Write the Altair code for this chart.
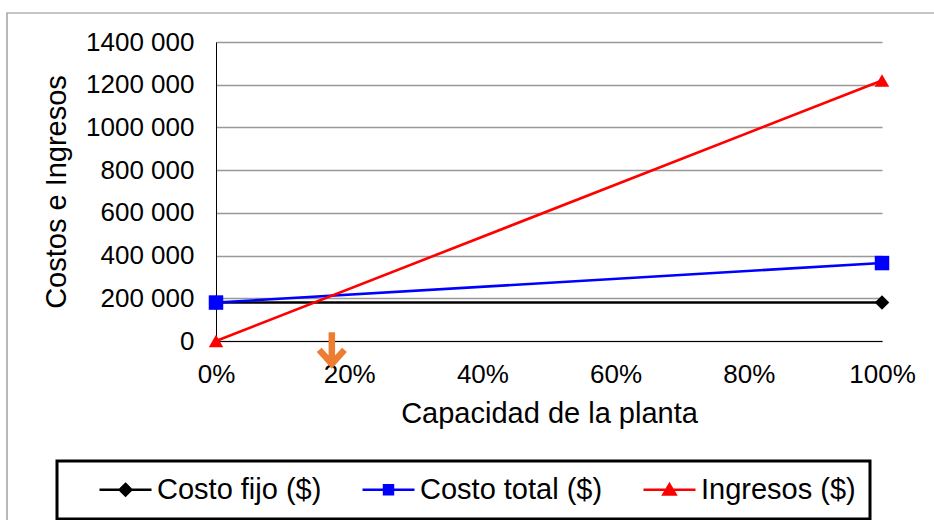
import altair as alt
import pandas as pd

# Break-even chart: fixed cost, total cost and revenue against plant capacity
capacidad = [0.0, 1.0]
costo_fijo = [180000, 180000]
costo_total = [180000, 365000]
ingresos = [0, 1220000]

series = ["Costo fijo ($)", "Costo total ($)", "Ingresos ($)"]
colores = ["#000000", "#0000FF", "#FF0000"]
marcadores = ["diamond", "square", "triangle-up"]
# legend symbols: a short line with the series marker in the middle
simbolos = [
    "M-2,0H2M0,-0.44L0.44,0L0,0.44L-0.44,0Z",
    "M-2,0H2M-0.34,-0.34H0.34V0.34H-0.34Z",
    "M-2,0H2M0,-0.42L0.46,0.36H-0.46Z",
]

x_ticks = [0, 0.2, 0.4, 0.6, 0.8, 1.0]
y_ticks = [0, 200000, 400000, 600000, 800000, 1000000, 1200000, 1400000]

FONT = "Liberation Sans"

filas = []
for nombre, valores in zip(series, [costo_fijo, costo_total, ingresos]):
    for c, v in zip(capacidad, valores):
        filas.append({"serie": nombre, "capacidad": c, "valor": v})
df = pd.DataFrame(filas)

# break-even capacity: where revenue meets total cost
d0 = ingresos[0] - costo_total[0]
d1 = ingresos[1] - costo_total[1]
equilibrio = capacidad[0] + (capacidad[1] - capacidad[0]) * (-d0) / (d1 - d0)
df_eq = pd.DataFrame({"capacidad": [equilibrio]})

x_enc = alt.X(
    "capacidad:Q",
    scale=alt.Scale(domain=[0, 1], nice=False, zero=False),
    axis=alt.Axis(
        title="Capacidad de la planta",
        values=x_ticks,
        format=".0%",
        grid=False,
        ticks=False,
        labelFlush=False,
        domainColor="#000000",
        domainWidth=1,
        labelFont=FONT,
        labelFontSize=26,
        labelColor="#000000",
        labelPadding=20,
        titleFont=FONT,
        titleFontSize=29,
        titleFontWeight="normal",
        titleColor="#000000",
        titlePadding=12,
    ),
)
y_enc = alt.Y(
    "valor:Q",
    scale=alt.Scale(domain=[0, 1400000], nice=False),
    axis=alt.Axis(
        title="Costos e Ingresos",
        values=y_ticks,
        labelExpr="datum.value == 0 ? '0' : format(datum.value / 1000, 'd') + ' 000'",
        grid=True,
        gridColor="#999999",
        gridWidth=1.3,
        ticks=False,
        domainColor="#000000",
        domainWidth=1,
        labelFont=FONT,
        labelFontSize=26,
        labelColor="#000000",
        labelPadding=22,
        titleFont=FONT,
        titleFontSize=29,
        titleFontWeight="normal",
        titleColor="#000000",
        titlePadding=14,
    ),
)

# chart area border
marco = alt.Chart(pd.DataFrame({"k": [0]})).mark_rect(
    fillOpacity=0, stroke="#8c8c8c", strokeWidth=1.2
).encode(
    x=alt.value(-209), x2=alt.value(900),
    y=alt.value(-29), y2=alt.value(700),
)

capas = [marco]
for nombre, color in zip(series, colores):
    capas.append(
        alt.Chart(df).transform_filter(alt.datum.serie == nombre)
        .mark_line(color=color, strokeWidth=2.6)
        .encode(x=x_enc, y=y_enc)
    )
for nombre, color, forma in zip(series, colores, marcadores):
    capas.append(
        alt.Chart(df).transform_filter(alt.datum.serie == nombre)
        .mark_point(shape=forma, filled=True, color=color, size=210, opacity=1)
        .encode(x=x_enc, y=y_enc)
    )

# arrow marking the break-even capacity
flecha = alt.Chart(df_eq).mark_point(
    shape="M0,-1V1M-0.8,0.12L0,1L0.8,0.12",
    filled=False, stroke="#ED7D31", strokeWidth=6.5, size=1000, opacity=1,
    strokeJoin="miter", strokeCap="butt",
).encode(x=x_enc, y=alt.value(306))
capas.append(flecha)

# legend entries (the layer draws no marks of its own)
leyenda = alt.Legend(
    title=None,
    orient="none",
    legendX=-159,
    legendY=419,
    direction="horizontal",
    labelFont=FONT,
    labelFontSize=29,
    labelColor="#000000",
    labelOffset=17,
    symbolSize=676,
    symbolStrokeWidth=2.6,
    symbolOpacity=1,
    symbolOffset=40,
    columnPadding=12,
    padding=14,
    strokeColor="#000000",
    labelLimit=400,
)
capa_leyenda = alt.Chart(df).transform_filter("false").mark_point(filled=True).encode(
    fill=alt.Fill("serie:N", scale=alt.Scale(domain=series, range=colores), legend=leyenda),
    stroke=alt.Stroke("serie:N", scale=alt.Scale(domain=series, range=colores), legend=leyenda),
    shape=alt.Shape("serie:N", scale=alt.Scale(domain=series, range=simbolos), legend=leyenda),
)
capas.append(capa_leyenda)

chart = alt.layer(*capas).properties(
    width=666,
    height=299,
    autosize=alt.AutoSizeParams(type="none"),
    padding={"left": 216, "top": 42, "right": 52, "bottom": 179},
    background="#ffffff",
).configure_view(stroke=None).configure_legend(strokeWidth=3)

chart.save("out.html", embed_options={"renderer": "svg", "actions": False})
